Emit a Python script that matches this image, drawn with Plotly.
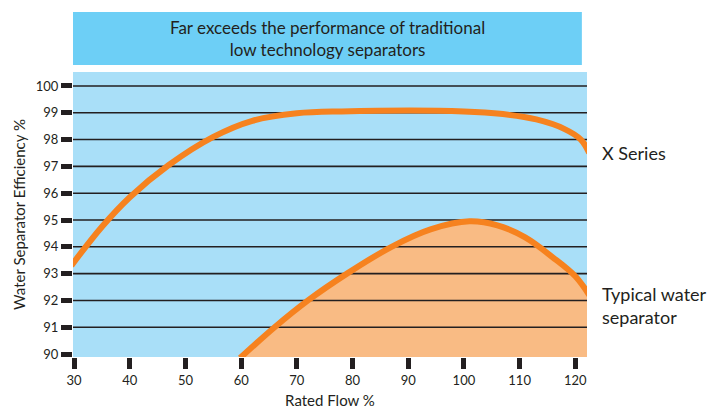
import plotly.graph_objects as go

# X Series efficiency curve
xs_flow = [29.5, 35, 40, 47, 55, 62, 70, 78, 100, 107, 113, 118, 121, 122.5]
xs_eff = [93.3, 94.75, 95.85, 97.05, 98.1, 98.7, 98.98, 99.05, 99.05, 98.95, 98.75, 98.4, 98.0, 97.5]

# Typical water separator curve
ty_flow = [59.8, 66, 72, 79, 87, 94, 101, 106, 111, 116, 120, 122.5]
ty_eff = [89.85, 91.0, 92.0, 93.0, 94.0, 94.65, 94.95, 94.8, 94.35, 93.6, 92.9, 92.2]

y_ticks = [90, 91, 92, 93, 94, 95, 96, 97, 98, 99, 100]
x_ticks = [30, 40, 50, 60, 70, 80, 90, 100, 110, 120]

title_text = "Far exceeds the performance of traditional<br>low technology separators"
label_x = "X Series"
label_typ = "Typical water<br>separator"

X_RANGE = [29.8, 122.1]
Y_RANGE = [89.89, 100.52]

ORANGE = "#f6821f"
FILL = "#f9bb84"
PLOT_BG = "#a9dff8"
BOX_BG = "#6dcff6"
INK = "#231f20"
FONT = "Lato"

fig = go.Figure()

# fill under typical curve (no line)
fig.add_trace(go.Scatter(x=ty_flow, y=ty_eff, mode="lines", line=dict(width=0, shape="spline", color=FILL),
                         fill="tozeroy", fillcolor=FILL, hoverinfo="skip", showlegend=False))

# gridlines as a trace built from y_ticks
gx, gy = [], []
for v in y_ticks[1:]:
    gx += [X_RANGE[0] - 5, X_RANGE[1] + 5, None]
    gy += [v, v, None]
fig.add_trace(go.Scatter(x=gx, y=gy, mode="lines", line=dict(color=INK, width=1.6),
                         hoverinfo="skip", showlegend=False))

fig.add_trace(go.Scatter(x=ty_flow, y=ty_eff, mode="lines", line=dict(color=ORANGE, width=6, shape="spline"),
                         showlegend=False))
fig.add_trace(go.Scatter(x=xs_flow, y=xs_eff, mode="lines", line=dict(color=ORANGE, width=6, shape="spline"),
                         showlegend=False))

fig.update_layout(
    width=717, height=402,
    margin=dict(l=65, r=138, t=64, b=53),
    paper_bgcolor="white", plot_bgcolor=PLOT_BG,
    font=dict(family=FONT, color=INK, size=13),
    showlegend=False,
)
fig.update_xaxes(range=X_RANGE, tickvals=x_ticks, ticks="outside", ticklen=11, tickwidth=5,
                 tickcolor=INK, showgrid=False, zeroline=False, showline=False, automargin=False,
                 tickfont=dict(size=13, color=INK),
                 title=dict(text="Rated Flow %", font=dict(size=15, color=INK), standoff=8))
fig.update_yaxes(range=Y_RANGE, tickvals=y_ticks, ticks="outside", ticklen=11, tickwidth=5,
                 tickcolor=INK, showgrid=False, zeroline=False, showline=False, automargin=False,
                 tickfont=dict(size=13, color=INK),
                 title=dict(text="Water Separator Efficiency %", font=dict(size=15, color=INK), standoff=6))

# title box
fig.add_shape(type="rect", xref="paper", yref="paper", x0=0, x1=0.99, y0=1.0246, y1=1.2105,
              fillcolor=BOX_BG, line=dict(width=0), layer="below")
fig.add_annotation(xref="paper", yref="paper", x=0.495, y=1.1175, text=title_text, showarrow=False,
                   font=dict(size=17, color=INK, family=FONT), align="center", xanchor="center", yanchor="middle")

# right-side labels
fig.add_annotation(xref="paper", yref="y", x=1.0, xshift=13, y=97.5, text=label_x, showarrow=False,
                   xanchor="left", yanchor="middle", align="left", font=dict(size=18, color=INK, family=FONT))
fig.add_annotation(xref="paper", yref="y", x=1.0, xshift=13, y=91.82, text=label_typ, showarrow=False,
                   xanchor="left", yanchor="middle", align="left", font=dict(size=18, color=INK, family=FONT))

fig.write_html("out.html")
